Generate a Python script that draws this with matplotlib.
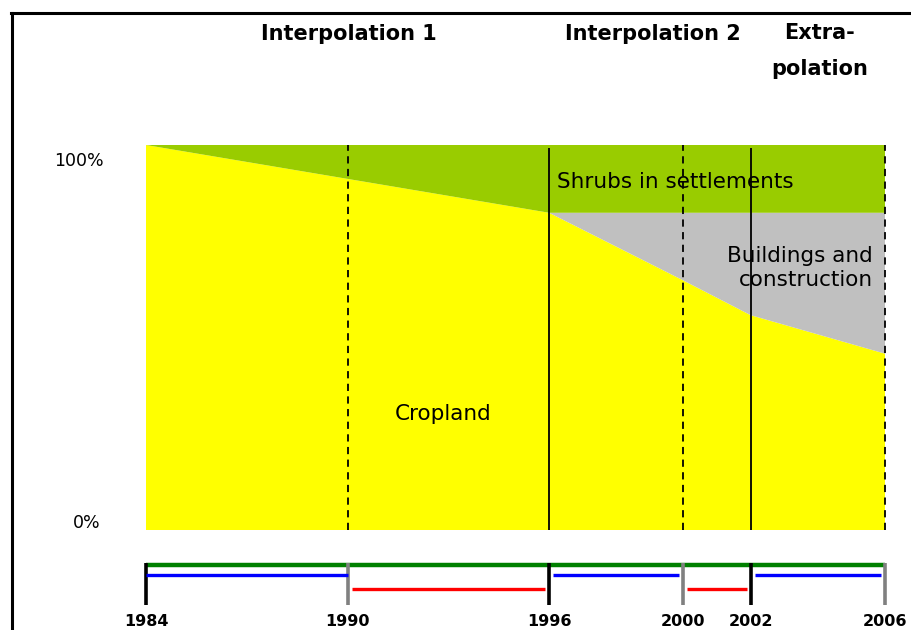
import matplotlib
matplotlib.use("Agg")
import matplotlib.pyplot as plt
from matplotlib.lines import Line2D
import numpy as np

plt.rcParams['font.family'] = ['DejaVu Sans']

# ---- data ----
years = [1984, 1990, 1996, 2000, 2002, 2006]
cropland = [100.0, 91.2, 82.4, 64.8, 55.8, 45.8]
buildings = [0.0, 0.0, 0.0, 17.6, 26.6, 36.6]
shrubs = [0.0, 8.8, 17.6, 17.6, 17.6, 17.6]
solid_years = [1996, 2002]
dashed_years = [1990, 2000, 2006]
segments_start = [1984, 1990, 1996, 2000, 2002]
segments_end = [1990, 1996, 2000, 2002, 2006]
segments_kind = ["blue", "red", "blue", "red", "blue"]
tick_colors = ["black", "gray", "black", "gray", "black", "gray"]
headers = ["Interpolation 1", "Interpolation 2", "Extra-\npolation"]
header_x = [1990.05, 1999.09, 2004.05]

W, H = 911, 630
fig = plt.figure(figsize=(W / 100, H / 100), dpi=100)
ax = fig.add_axes([0, 0, 1, 1])
ax.set_axis_off()

# pixel mapping: 1984 -> 146px, 2006 -> 885px ; 0% -> 530px, 100% -> 145px
xs = (885 - 146) / 22.0
ys = (530 - 145) / 100.0
x0 = 1984 - 146 / xs
ax.set_xlim(x0, 1984 + (W - 146) / xs)
ax.set_ylim(-(H - 530) / ys, 530 / ys)


def px(xp):
    return x0 + xp / xs


def py(yp):
    return (530 - yp) / ys


ax.stackplot(years, cropland, buildings, shrubs,
             colors=["#FFFF00", "#C0C0C0", "#99CC00"], linewidth=0)

for yr in solid_years:
    ax.plot([yr, yr], [0, py(148)], color="black", lw=1.3, solid_capstyle="butt")
for yr in dashed_years:
    ax.plot([yr, yr], [0, 100], color="black", lw=1.3, ls=(0, (4, 3)))

ax.text(px(104), py(161), "100%", ha="right", va="center", fontsize=12.5)
ax.text(px(100), py(523), "0%", ha="right", va="center", fontsize=12.5)

ax.text(px(557), py(182), "Shrubs in settlements", ha="left", va="center", fontsize=15.5)
ax.text(px(873), py(268), "Buildings and\nconstruction", ha="right", va="center",
        fontsize=15.5, linespacing=1.3)
ax.text(px(443), py(414), "Cropland", ha="center", va="center", fontsize=15.5)

for t, x in zip(headers, header_x):
    nlines = t.count("\n")
    ax.text(x, py(40 + 35 * nlines), t, ha="center", va="baseline", fontsize=15,
            fontweight="bold", linespacing=1.97)

# timeline
ygreen = py(565)
ax.plot([years[0], years[-1]], [ygreen, ygreen], color="#008000", lw=3.2,
        solid_capstyle="butt")
for yr, c in zip(years, tick_colors):
    ax.plot([yr, yr], [py(563), py(605)], color=c, lw=2.6, solid_capstyle="butt")
    ax.text(yr, py(621), str(yr), ha="center", va="center",
            fontsize=11.5, fontweight="bold")

levels = {"blue": py(575), "red": py(589)}
colmap = {"blue": "#0000FF", "red": "#FF0000"}
inset = 0.12
for s, e, k in zip(segments_start, segments_end, segments_kind):
    ax.plot([s + (0 if s == 1984 else inset), e - (0 if e == 1990 else inset)],
            [levels[k], levels[k]], color=colmap[k], lw=2.4, solid_capstyle="butt")

# frame lines
fig.add_artist(Line2D([11.5 / W, 11.5 / W], [0, 1 - 13 / H], color="black", lw=2.2,
                      transform=fig.transFigure))
fig.add_artist(Line2D([11.5 / W - 0.001, 1], [1 - 13 / H, 1 - 13 / H], color="black",
                      lw=2.2, transform=fig.transFigure))

fig.savefig("out.png", dpi=100, facecolor="white")
